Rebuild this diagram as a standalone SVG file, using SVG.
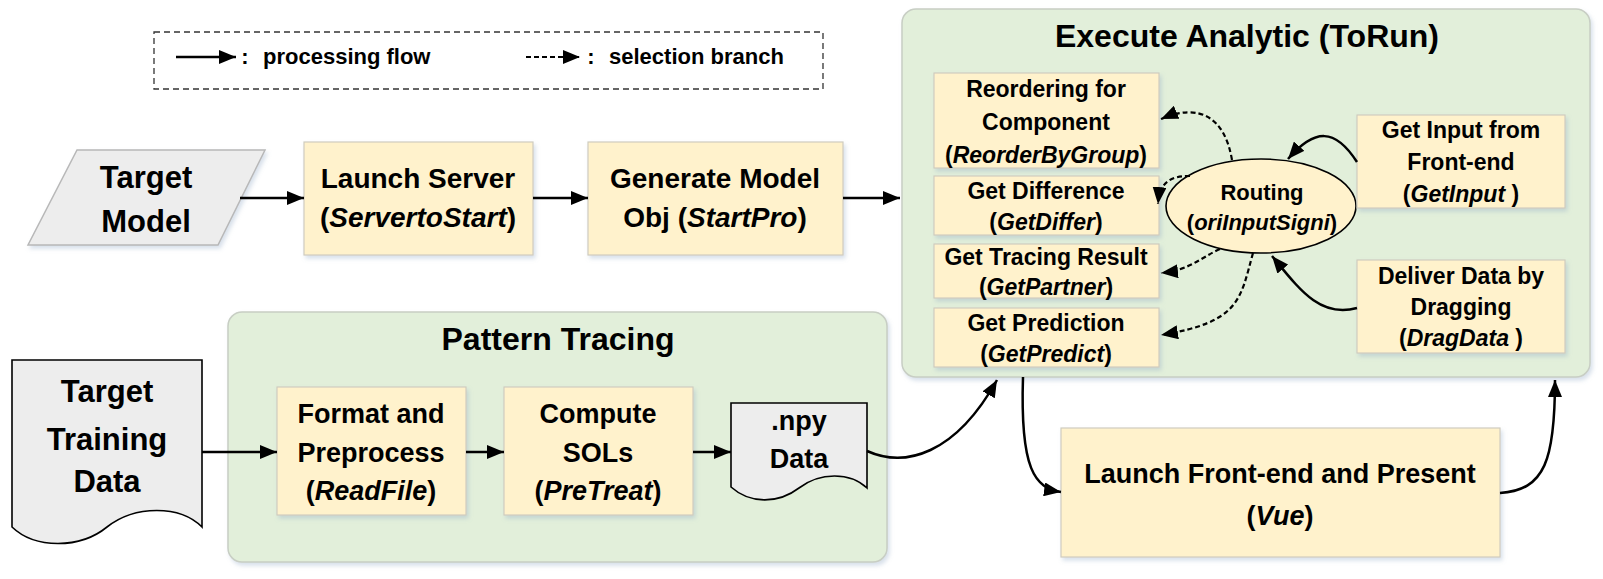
<svg xmlns="http://www.w3.org/2000/svg" width="1603" height="579" viewBox="0 0 1603 579">
<defs>
<style>
text{font-family:"Liberation Sans",Arial,sans-serif;font-weight:bold;fill:#000;text-anchor:middle}
.it{font-style:italic}
.box{fill:#FFF2CC;stroke:#D0CCBE;stroke-width:1.2}
.cont{fill:#E2EFDA;stroke:#C8CEC4;stroke-width:1.5}
.grey{fill:#EDEDED;stroke:#000;stroke-width:1.6}
.para{fill:#EDEDED;stroke:#B8B8B8;stroke-width:1.5}
.ln{fill:none;stroke:#000;stroke-width:2.5}
.dl{fill:none;stroke:#000;stroke-width:2.2;stroke-dasharray:5 3}
.t23{font-size:23px}
.t27{font-size:27px}
.t28{font-size:28px}
.t31{font-size:31px}
.t32{font-size:32px}
.t22{font-size:22px}
</style>
<marker id="ah" markerUnits="userSpaceOnUse" markerWidth="18" markerHeight="14" refX="17" refY="7" orient="auto">
<path d="M0,0 L17,7 L0,14 z" fill="#000"/>
</marker>
<filter id="sh" x="-10%" y="-10%" width="125%" height="130%">
<feDropShadow dx="2" dy="3" stdDeviation="2" flood-color="#8FA6C4" flood-opacity="0.35"/>
</filter>
</defs>
<rect width="1603" height="579" fill="#fff"/>

<g id="legend">
<rect x="154" y="32" width="669" height="57" fill="none" stroke="#333" stroke-width="1.3" stroke-dasharray="6 4"/>
<path d="M176 57 H236" class="ln" marker-end="url(#ah)"/>
<text x="245" y="64" class="t22">:</text>
<text x="263" y="64" class="t22" style="text-anchor:start">processing flow</text>
<path d="M526 57 H580" class="dl" marker-end="url(#ah)"/>
<text x="591" y="64" class="t22">:</text>
<text x="609" y="64" class="t22" style="text-anchor:start">selection branch</text>
</g>

<g id="execute-analytic">
<rect x="902" y="9" width="688" height="368" rx="14" class="cont" filter="url(#sh)"/>
<text x="1247" y="47" class="t32">Execute Analytic (ToRun)</text>
</g>

<g id="pattern-tracing">
<rect x="228" y="312" width="659" height="250" rx="14" class="cont" filter="url(#sh)"/>
<text x="558" y="350" class="t32">Pattern Tracing</text>
</g>

<g id="target-model">
<polygon points="77,150 265,150 218,245 28,245" class="para" filter="url(#sh)"/>
<text x="146" y="188" class="t31">Target</text>
<text x="146" y="232" class="t31">Model</text>
</g>

<g id="launch-server">
<rect x="304" y="142" width="229" height="113" class="box" filter="url(#sh)"/>
<text x="418" y="188" class="t28">Launch Server</text>
<text x="418" y="227" class="t28">(<tspan class="it">ServertoStart</tspan>)</text>
</g>

<g id="generate-model">
<rect x="588" y="142" width="255" height="113" class="box" filter="url(#sh)"/>
<text x="715" y="188" class="t28">Generate Model</text>
<text x="715" y="227" class="t28">Obj (<tspan class="it">StartPro</tspan>)</text>
</g>

<g id="target-training-data">
<path d="M12 360 H202 V527 C180 505 135 505 107 527 C80 549 35 549 12 527 Z" class="grey"/>
<text x="107" y="402" class="t31">Target</text>
<text x="107" y="450" class="t31">Training</text>
<text x="107" y="492" class="t31">Data</text>
</g>

<g id="format-preprocess">
<rect x="277" y="387" width="189" height="128" class="box" filter="url(#sh)"/>
<text x="371" y="423" class="t27">Format and</text>
<text x="371" y="462" class="t27">Preprocess</text>
<text x="371" y="500" class="t27">(<tspan class="it">ReadFile</tspan>)</text>
</g>

<g id="compute-sols">
<rect x="504" y="387" width="189" height="128" class="box" filter="url(#sh)"/>
<text x="598" y="423" class="t27">Compute</text>
<text x="598" y="462" class="t27">SOLs</text>
<text x="598" y="500" class="t27">(<tspan class="it">PreTreat</tspan>)</text>
</g>

<g id="npy-data">
<path d="M731 403 H867 V488 C850 472 820 472 799 488 C778 504 750 504 731 487 Z" class="grey"/>
<text x="799" y="430" class="t27">.npy</text>
<text x="799" y="468" class="t27">Data</text>
</g>

<g id="reordering">
<rect x="934" y="73" width="225" height="95" class="box" filter="url(#sh)"/>
<text x="1046" y="97" class="t23">Reordering for</text>
<text x="1046" y="130" class="t23">Component</text>
<text x="1046" y="163" class="t23">(<tspan class="it">ReorderByGroup</tspan>)</text>
</g>

<g id="get-difference">
<rect x="934" y="176" width="225" height="59" class="box" filter="url(#sh)"/>
<text x="1046" y="199" class="t23">Get Difference</text>
<text x="1046" y="230" class="t23">(<tspan class="it">GetDiffer</tspan>)</text>
</g>

<g id="get-tracing">
<rect x="934" y="244" width="225" height="54" class="box" filter="url(#sh)"/>
<text x="1046" y="265" class="t23">Get Tracing Result</text>
<text x="1046" y="295" class="t23">(<tspan class="it">GetPartner</tspan>)</text>
</g>

<g id="get-prediction">
<rect x="934" y="308" width="225" height="59" class="box" filter="url(#sh)"/>
<text x="1046" y="331" class="t23">Get Prediction</text>
<text x="1046" y="362" class="t23">(<tspan class="it">GetPredict</tspan>)</text>
</g>

<g id="routing">
<ellipse cx="1261" cy="206" rx="95" ry="47" fill="#FFF2CC" stroke="#000" stroke-width="1.6"/>
<text x="1262" y="200" class="t22">Routing</text>
<text x="1262" y="230" class="t22">(<tspan class="it">oriInputSigni</tspan>)</text>
</g>

<g id="get-input">
<rect x="1357" y="115" width="208" height="93" class="box" filter="url(#sh)"/>
<text x="1461" y="138" class="t23">Get Input from</text>
<text x="1461" y="170" class="t23">Front-end</text>
<text x="1461" y="202" class="t23">(<tspan class="it">GetInput</tspan> )</text>
</g>

<g id="deliver-data">
<rect x="1357" y="260" width="208" height="93" class="box" filter="url(#sh)"/>
<text x="1461" y="284" class="t23">Deliver Data by</text>
<text x="1461" y="315" class="t23">Dragging</text>
<text x="1461" y="346" class="t23">(<tspan class="it">DragData</tspan> )</text>
</g>

<g id="launch-frontend">
<rect x="1061" y="428" width="439" height="129" class="box" filter="url(#sh)"/>
<text x="1280" y="483" class="t27">Launch Front-end and Present</text>
<text x="1280" y="525" class="t27">(<tspan class="it">Vue</tspan>)</text>
</g>

<g id="connectors">
<path d="M240 198 H304" class="ln" marker-end="url(#ah)"/>
<path d="M533 198 H588" class="ln" marker-end="url(#ah)"/>
<path d="M843 198 H900" class="ln" marker-end="url(#ah)"/>
<path d="M202 452 H277" class="ln" marker-end="url(#ah)"/>
<path d="M466 452 H504" class="ln" marker-end="url(#ah)"/>
<path d="M693 452 H731" class="ln" marker-end="url(#ah)"/>
<path d="M867 451 C905 468 955 455 997 380" class="ln" marker-end="url(#ah)"/>
<path d="M1023 377 C1020 470 1035 488 1061 492" class="ln" marker-end="url(#ah)"/>
<path d="M1500 493 C1545 490 1555 460 1555 380" class="ln" marker-end="url(#ah)"/>
<path d="M1357 162 C1335 128 1315 128 1288 159" class="ln" marker-end="url(#ah)"/>
<path d="M1357 308 C1320 318 1300 290 1272 256" class="ln" marker-end="url(#ah)"/>
<path d="M1232 160 C1225 118 1200 102 1161 119" class="dl" marker-end="url(#ah)"/>
<path d="M1190 176 C1170 176 1160 182 1158 204" class="dl" marker-end="url(#ah)"/>
<path d="M1220 249 C1200 258 1190 270 1161 273" class="dl" marker-end="url(#ah)"/>
<path d="M1253 253 C1240 300 1240 322 1161 335" class="dl" marker-end="url(#ah)"/>
</g>
</svg>
